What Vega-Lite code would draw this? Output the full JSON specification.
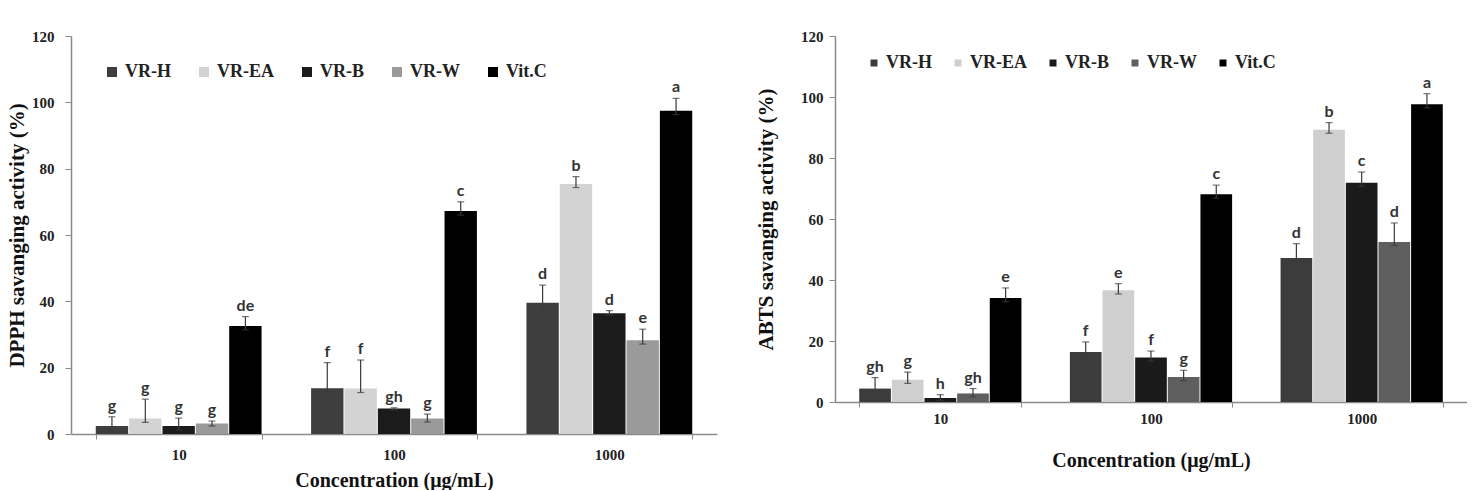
{
  "$schema": "https://vega.github.io/schema/vega-lite/v6.json",
  "padding": {"left": 6, "top": 29, "right": 0, "bottom": 0},
  "background": "white",
  "datasets": {
    "dpph": [
      {"conc": "10", "sample": "VR-H", "value": 2.4, "lo": 1.2, "hi": 5.2, "letter": "g"},
      {"conc": "10", "sample": "VR-EA", "value": 4.7, "lo": 3.5, "hi": 10.5, "letter": "g"},
      {"conc": "10", "sample": "VR-B", "value": 2.4, "lo": 1.2, "hi": 4.8, "letter": "g"},
      {"conc": "10", "sample": "VR-W", "value": 3.2, "lo": 2.4, "hi": 3.9, "letter": "g"},
      {"conc": "10", "sample": "Vit.C", "value": 32.6, "lo": 31.4, "hi": 35.4, "letter": "de"},
      {"conc": "100", "sample": "VR-H", "value": 13.8, "lo": 12.6, "hi": 21.5, "letter": "f"},
      {"conc": "100", "sample": "VR-EA", "value": 13.7, "lo": 12.5, "hi": 22.3, "letter": "f"},
      {"conc": "100", "sample": "VR-B", "value": 7.7, "lo": 7.3, "hi": 7.9, "letter": "gh"},
      {"conc": "100", "sample": "VR-W", "value": 4.7, "lo": 3.6, "hi": 6.0, "letter": "g"},
      {"conc": "100", "sample": "Vit.C", "value": 67.2, "lo": 66.0, "hi": 70.0, "letter": "c"},
      {"conc": "1000", "sample": "VR-H", "value": 39.6, "lo": 38.4, "hi": 44.9, "letter": "d"},
      {"conc": "1000", "sample": "VR-EA", "value": 75.4, "lo": 74.3, "hi": 77.6, "letter": "b"},
      {"conc": "1000", "sample": "VR-B", "value": 36.4, "lo": 35.9, "hi": 37.2, "letter": "d"},
      {"conc": "1000", "sample": "VR-W", "value": 28.3, "lo": 27.1, "hi": 31.6, "letter": "e"},
      {"conc": "1000", "sample": "Vit.C", "value": 97.5, "lo": 96.3, "hi": 101.2, "letter": "a"}
    ],
    "abts": [
      {"conc": "10", "sample": "VR-H", "value": 4.4, "lo": 3.2, "hi": 8.0, "letter": "gh"},
      {"conc": "10", "sample": "VR-EA", "value": 7.3, "lo": 6.1, "hi": 9.8, "letter": "g"},
      {"conc": "10", "sample": "VR-B", "value": 1.3, "lo": 0.6, "hi": 2.4, "letter": "h"},
      {"conc": "10", "sample": "VR-W", "value": 2.8, "lo": 1.7, "hi": 4.4, "letter": "gh"},
      {"conc": "10", "sample": "Vit.C", "value": 34.1, "lo": 32.9, "hi": 37.4, "letter": "e"},
      {"conc": "100", "sample": "VR-H", "value": 16.4, "lo": 15.2, "hi": 19.7, "letter": "f"},
      {"conc": "100", "sample": "VR-EA", "value": 36.6, "lo": 35.4, "hi": 38.8, "letter": "e"},
      {"conc": "100", "sample": "VR-B", "value": 14.6, "lo": 13.4, "hi": 16.7, "letter": "f"},
      {"conc": "100", "sample": "VR-W", "value": 8.2, "lo": 7.0, "hi": 10.4, "letter": "g"},
      {"conc": "100", "sample": "Vit.C", "value": 68.1, "lo": 66.9, "hi": 71.1, "letter": "c"},
      {"conc": "1000", "sample": "VR-H", "value": 47.2, "lo": 46.0, "hi": 51.9, "letter": "d"},
      {"conc": "1000", "sample": "VR-EA", "value": 89.3, "lo": 88.1, "hi": 91.6, "letter": "b"},
      {"conc": "1000", "sample": "VR-B", "value": 71.9, "lo": 70.7, "hi": 75.4, "letter": "c"},
      {"conc": "1000", "sample": "VR-W", "value": 52.5, "lo": 51.3, "hi": 58.7, "letter": "d"},
      {"conc": "1000", "sample": "Vit.C", "value": 97.6, "lo": 96.4, "hi": 101.1, "letter": "a"}
    ]
  },
  "hconcat": [
    {
      "width": 646,
      "height": 398,
      "data": {"name": "dpph"},
      "encoding": {
        "x": {
          "field": "conc", "type": "nominal", "sort": ["10", "100", "1000"],
          "scale": {"paddingInner": 0.23, "paddingOuter": 0.115},
          "axis": {"title": "Concentration (μg/mL)", "labelPadding": 8, "titlePadding": 8}
        },
        "xOffset": {
          "field": "sample", "type": "nominal", "sort": ["VR-H", "VR-EA", "VR-B", "VR-W", "Vit.C"],
          "scale": {"paddingInner": 0.03, "paddingOuter": 0}
        }
      },
      "layer": [
        {
          "mark": {"type": "bar"},
          "encoding": {
            "y": {
              "field": "value", "type": "quantitative",
              "scale": {"domain": [0, 120], "nice": false},
              "axis": {"title": "DPPH savanging activity (%)", "values": [0, 20, 40, 60, 80, 100, 120], "labelPadding": 11, "titlePadding": 4}
            },
            "color": {
              "field": "sample", "type": "nominal", "sort": ["VR-H", "VR-EA", "VR-B", "VR-W", "Vit.C"],
              "scale": {"domain": ["VR-H", "VR-EA", "VR-B", "VR-W", "Vit.C"], "range": ["#3e3e3e", "#d3d3d3", "#1b1b1b", "#9a9a9a", "#000000"]},
              "legend": {"orient": "none", "direction": "horizontal", "legendX": 32, "legendY": 27, "title": null, "symbolSize": 100, "labelOffset": 4, "columnPadding": 24}
            }
          }
        },
        {
          "mark": {"type": "rule", "color": "#3a3a3a", "strokeWidth": 1.2},
          "encoding": {"y": {"field": "lo", "type": "quantitative"}, "y2": {"field": "hi"}}
        },
        {
          "mark": {"type": "tick", "color": "#3a3a3a", "size": 7, "thickness": 1.2},
          "encoding": {"y": {"field": "hi", "type": "quantitative"}}
        },
        {
          "mark": {"type": "tick", "color": "#3a3a3a", "size": 7, "thickness": 1.2},
          "encoding": {"y": {"field": "lo", "type": "quantitative"}}
        },
        {
          "mark": {"type": "text", "baseline": "alphabetic", "dy": -6, "font": "Lato", "fontWeight": "bold", "fontSize": 16, "color": "#333333"},
          "encoding": {"y": {"field": "hi", "type": "quantitative"}, "text": {"field": "letter"}}
        }
      ]
    },
    {
      "width": 632,
      "height": 366,
      "data": {"name": "abts"},
      "encoding": {
        "x": {
          "field": "conc", "type": "nominal", "sort": ["10", "100", "1000"],
          "scale": {"paddingInner": 0.23, "paddingOuter": 0.115},
          "axis": {"title": "Concentration (μg/mL)", "labelPadding": 4, "titlePadding": 24}
        },
        "xOffset": {
          "field": "sample", "type": "nominal", "sort": ["VR-H", "VR-EA", "VR-B", "VR-W", "Vit.C"],
          "scale": {"paddingInner": 0.03, "paddingOuter": 0}
        }
      },
      "layer": [
        {
          "mark": {"type": "bar"},
          "encoding": {
            "y": {
              "field": "value", "type": "quantitative",
              "scale": {"domain": [0, 120], "nice": false},
              "axis": {"title": "ABTS savanging activity (%)", "values": [0, 20, 40, 60, 80, 100, 120], "labelPadding": 6, "titlePadding": 24}
            },
            "color": {
              "field": "sample", "type": "nominal", "sort": ["VR-H", "VR-EA", "VR-B", "VR-W", "Vit.C"],
              "scale": {"domain": ["VR-H", "VR-EA", "VR-B", "VR-W", "Vit.C"], "range": ["#3c3c3c", "#cfcfcf", "#1a1a1a", "#5f5f5f", "#000000"]},
              "legend": {"orient": "none", "direction": "horizontal", "legendX": 30, "legendY": 18, "title": null, "symbolSize": 49, "labelOffset": 3, "columnPadding": 17}
            }
          }
        },
        {
          "mark": {"type": "rule", "color": "#3a3a3a", "strokeWidth": 1.2},
          "encoding": {"y": {"field": "lo", "type": "quantitative"}, "y2": {"field": "hi"}}
        },
        {
          "mark": {"type": "tick", "color": "#3a3a3a", "size": 7, "thickness": 1.2},
          "encoding": {"y": {"field": "hi", "type": "quantitative"}}
        },
        {
          "mark": {"type": "tick", "color": "#3a3a3a", "size": 7, "thickness": 1.2},
          "encoding": {"y": {"field": "lo", "type": "quantitative"}}
        },
        {
          "mark": {"type": "text", "baseline": "alphabetic", "dy": -6, "font": "Lato", "fontWeight": "bold", "fontSize": 16, "color": "#333333"},
          "encoding": {"y": {"field": "hi", "type": "quantitative"}, "text": {"field": "letter"}}
        }
      ]
    }
  ],
  "spacing": 38,
  "resolve": {
    "scale": {"x": "independent", "y": "independent", "xOffset": "independent", "color": "independent"},
    "legend": {"color": "independent"},
    "axis": {"x": "independent", "y": "independent"}
  },
  "config": {
    "view": {"stroke": null},
    "axis": {
      "grid": false,
      "domainColor": "#8a8a8a",
      "domainWidth": 1.5,
      "tickColor": "#8a8a8a",
      "labelFont": "Liberation Serif",
      "labelFontWeight": "bold",
      "labelFontSize": 15,
      "labelColor": "#222222",
      "titleFont": "Liberation Serif",
      "titleFontWeight": "bold",
      "titleColor": "#111111"
    },
    "axisY": {"tickSize": 6, "titleFontSize": 21},
    "axisX": {"tickSize": 5, "tickBand": "extent", "labelAngle": 0, "titleFontSize": 20},
    "legend": {
      "symbolType": "square",
      "symbolStrokeWidth": 0,
      "labelFont": "Liberation Serif",
      "labelFontWeight": "bold",
      "labelFontSize": 18,
      "labelColor": "#222222",
      "padding": 0
    }
  }
}
